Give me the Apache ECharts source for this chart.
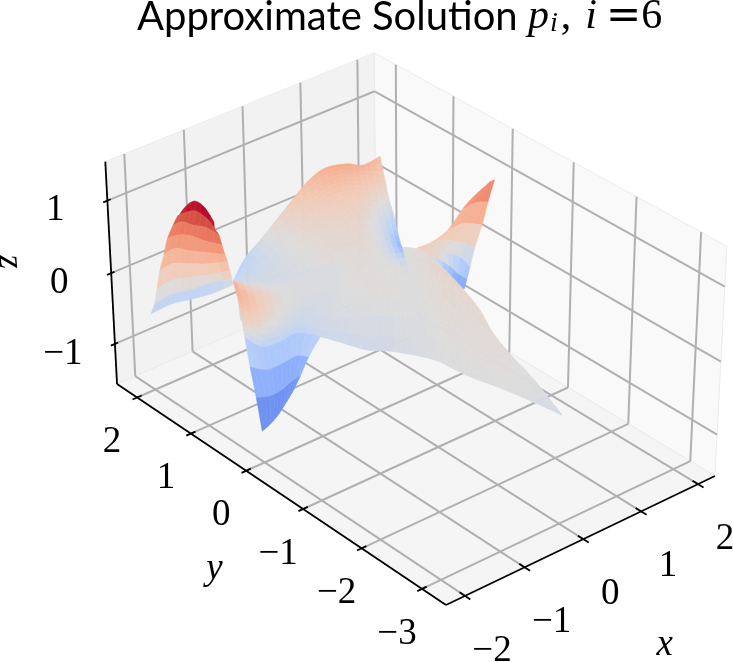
<!DOCTYPE html>
<html><head><meta charset="utf-8"><style>html,body{margin:0;padding:0;background:#fff}#c{width:733px;height:662px}</style>
<script src="https://cdn.jsdelivr.net/npm/echarts@6/dist/echarts.min.js"></script></head><body><div id="c"></div>
<script>
const xTicks=[-2,-1,0,1,2], yTicks=[2,1,0,-1,-2,-3], zTicks=[-1,0,1];
const xLim=[-2.315,2.30], yLim=[-3.39,2.38], zLim=[-1.578,1.528];
const peakX=[[1.58,1.67,1.78,1.86,1.94],[1.58,1.67,1.75,1.80,1.85],[1.35,1.47,1.61,1.69,1.75],[1.07,1.36,1.56,1.73,1.78],[0.95,1.12,1.46,1.75,1.87],[0.94,1.09,1.55,1.87,1.96],[1.02,1.86,2.04,2.08,2.08]];
const peakY=[[0.01,-0.04,-0.05,-0.05,-0.05],[0.15,0.10,0.04,0.01,-0.03],[0.16,0.14,0.13,0.04,-0.03],[0.19,0.28,0.28,0.23,0.12],[0.30,0.21,0.29,0.34,0.28],[0.23,0.11,0.33,0.49,0.42],[0.15,0.82,0.84,0.73,0.58]];
const peakZ=[[.8,.9,.95,.98,.98],[.6,.66,.7,.7,.7],[.4,.42,.42,.42,.42],[.3,.2,.12,.04,.02],[.22,.15,-.02,-.2,-.35],[.2,.12,-.25,-.55,-.62],[.1,-.55,-.78,-.88,-.88]];
const tailX=[[1.09,1.16,1.03,0.84,0.68,0.48,0.33,0.22,0.07],[0.49,0.62,0.55,0.44,0.36,0.25,0.15,0.13,0.07],[0.01,0.09,0.08,0.06,0.05,0.00,-0.01,0.01,0.07],[-0.44,-0.40,-0.40,-0.36,-0.29,-0.24,-0.18,-0.08,0.07]];
const tailY=[[0.69,0.45,0.02,-0.59,-1.03,-1.44,-1.91,-2.36,-2.94],[0.14,-0.19,-0.52,-1.03,-1.39,-1.73,-2.11,-2.49,-2.94],[-0.50,-0.82,-1.04,-1.47,-1.75,-2.03,-2.31,-2.62,-2.94],[-1.24,-1.42,-1.58,-1.92,-2.13,-2.32,-2.50,-2.73,-2.94]];
const tailZ=[[0,.05,.12,.12,.1,.06,.02,-.02,-.14],[-.02,.03,.06,.06,.05,.03,.01,-.03,-.14],[-.05,0,.02,.02,.02,.01,0,-.04,-.14],[-.05,-.03,-.02,-.01,-.01,-.01,-.02,-.06,-.14]];
const bodyX=[[-0.83,-0.33,-0.13,0.29,0.68,0.95,1.20,1.43,1.89],[-0.90,-0.44,-0.14,0.28,0.66,0.94,1.20,1.48,1.77],[-0.96,-0.52,-0.17,0.25,0.60,0.89,1.16,1.46,1.76],[-1.02,-0.63,-0.23,0.17,0.53,0.82,1.09,1.42,1.84],[-1.10,-0.77,-0.35,0.06,0.41,0.70,0.97,1.39,1.86],[-1.21,-0.95,-0.59,-0.21,0.11,0.39,0.69,1.11,1.92],[-1.30,-1.11,-0.78,-0.43,-0.10,0.17,0.42,0.69,0.93],[-1.39,-1.29,-0.99,-0.67,-0.37,-0.10,0.11,0.25,0.31],[-1.58,-1.44,-1.16,-0.99,-0.90,-0.79,-0.64,-0.54,-0.44]];
const bodyY=[[1.75,2.06,1.95,1.93,1.96,1.91,1.77,1.72,1.88],[1.66,1.85,1.83,1.84,1.89,1.85,1.77,1.71,1.67],[1.58,1.69,1.69,1.72,1.75,1.74,1.70,1.64,1.60],[1.49,1.50,1.52,1.53,1.58,1.59,1.55,1.54,1.60],[1.38,1.26,1.27,1.28,1.32,1.32,1.30,1.39,1.54],[1.25,0.99,0.86,0.83,0.84,0.82,0.83,0.96,1.53],[1.16,0.81,0.63,0.53,0.50,0.44,0.40,0.41,0.45],[1.05,0.60,0.38,0.21,0.11,0.02,-0.07,-0.17,-0.28],[0.82,0.36,0.20,0.03,-0.31,-0.58,-0.77,-1.00,-1.24]];
const bodyZ=[[-.32,-.32,-.05,.25,.45,.58,.62,.55,.45],[-.27,-.24,-.05,.18,.35,.47,.48,.4,.25],[-.22,-.2,-.06,.12,.27,.36,.36,.27,.05],[-.17,-.16,-.07,.07,.18,.24,.24,.12,-.2],[-.12,-.12,-.07,.02,.09,.13,.12,-.08,-.45],[-.1,-.12,-.07,-.01,.03,.05,.03,-.15,-.68],[-.11,-.13,-.09,-.04,-.01,.02,.02,-.02,-.08],[-.12,-.14,-.11,-.06,-.02,0,0,0,-.02],[-.15,-.18,-.2,-.2,-.16,-.15,-.12,-.08,-.05]];
const humpX=[[-2.24,-2.16,-2.09,-2.10,-2.18],[-2.11,-2.11,-1.95,-2.05,-2.02],[-2.08,-1.93,-1.97,-1.83,-1.87],[-2.09,-2.02,-1.84,-1.87,-1.72],[-2.15,-1.92,-1.91,-1.71,-1.61],[-2.17,-2.01,-1.78,-1.69,-1.49],[-2.23,-1.92,-1.78,-1.49,-1.43],[-2.23,-1.97,-1.66,-1.41,-1.35],[-2.14,-1.76,-1.46,-1.12,-0.92]];
const humpY=[[1.17,1.11,1.01,0.82,0.58],[1.31,1.14,1.16,0.85,0.75],[1.44,1.44,1.20,1.12,0.84],[1.54,1.42,1.40,1.10,0.96],[1.55,1.60,1.36,1.29,1.03],[1.62,1.56,1.52,1.28,1.12],[1.62,1.68,1.50,1.45,1.15],[1.68,1.67,1.63,1.51,1.20],[1.86,1.88,1.84,1.81,1.66]];
const humpZ=[[1.3,1.45,1.55,1.55,1.5],[1.22,1.35,1.3,1.38,1.28],[1.02,1.02,1.1,1.06,1.1],[.8,.88,.82,.9,.86],[.6,.58,.66,.6,.66],[.34,.42,.36,.44,.48],[.12,.1,.18,.14,.32],[-.12,-.08,-.1,-.03,.15],[-.38,-.38,-.4,-.42,-.3]];
const frontX=[[-1.84,-1.12,-0.64,-0.14,0.32],[-1.97,-1.56,-0.94,-0.40,-0.03],[-2.00,-1.73,-1.13,-0.65,-0.39],[-1.98,-1.71,-1.24,-0.90,-0.73],[-1.84,-1.62,-1.34,-1.04,-0.99],[-1.72,-1.61,-1.33,-1.09,-1.03],[-1.87,-1.70,-1.45,-1.21,-1.08],[-2.00,-1.84,-1.62,-1.41,-1.23]];
const frontY=[[0.65,1.13,1.18,1.07,0.92],[0.46,0.56,0.78,0.77,0.66],[0.38,0.34,0.53,0.56,0.38],[0.36,0.29,0.38,0.39,0.12],[0.47,0.40,0.38,0.37,0.03],[0.52,0.35,0.36,0.36,0.20],[0.26,0.19,0.24,0.31,0.30],[0.03,0.05,0.13,0.21,0.28]];
const frontZ=[[.55,.05,-.1,-.05,0],[.55,.3,.02,-.04,-.03],[.45,.28,0,-.07,-.05],[.22,.05,-.12,-.15,-.08],[-.12,-.3,-.32,-.3,-.2],[-.6,-.6,-.62,-.6,-.55],[-.85,-.85,-.88,-.88,-.85],[-1.15,-1.12,-1.1,-1.05,-1]];
// camera: maps the unit box to the page
const g=.03615,h=.08593,k=-.0404,O=[446,605],A=[294.8,-111.8],B=[-318.9,-188],C=[-17,-248];
function project(x,y,z){const a=(x-xLim[0])/(xLim[1]-xLim[0]),b=(y-yLim[0])/(yLim[1]-yLim[0]),c=(z-zLim[0])/(zLim[1]-zLim[0]),w=1+g*a+h*b+k*c;return [(O[0]+A[0]*a+B[0]*b+C[0]*c)/w,(O[1]+A[1]*a+B[1]*b+C[1]*c)/w];}
const join=(X,Y,Z)=>X.map((r,i)=>r.map((v,j)=>[v,Y[i][j],Z[i][j]]));
const patches=[[join(peakX,peakY,peakZ),i=>1,2],[join(tailX,tailY,tailZ),i=>3,3],[join(bodyX,bodyY,bodyZ),i=>3,3],[join(humpX,humpY,humpZ),i=>1,2],[join(frontX,frontY,frontZ),i=>i<4?3:1,3]];
const stops=['#3b4cc0','#5977e3','#7b9ff9','#9ebeff','#c0d4f5','#dddcdc','#f2cbb7','#f7ac8e','#ee8468','#d65244','#b40426'].map(s=>[parseInt(s.slice(1,3),16),parseInt(s.slice(3,5),16),parseInt(s.slice(5,7),16)]);
function cmap(z){let t=Math.max(0,Math.min(.9999,(z+1.5)/3))*10,i=Math.floor(t),f=t-i;const c=[0,1,2].map(n=>Math.round(stops[i][n]*(1-f)+stops[i+1][n]*f));return `rgb(${c})`;}
function cr(p0,p1,p2,p3,t){return .5*(2*p1+(p2-p0)*t+(2*p0-5*p1+4*p2-p3)*t*t+(3*p1-p0-3*p2+p3)*t*t*t);}
function sample(G,s,t,d){const R=G.length,Cn=G[0].length,i=Math.min(Math.floor(s),R-2),j=Math.min(Math.floor(t),Cn-2),fs=s-i,ft=t-j,col=[];
 for(let r=-1;r<=2;r++){const row=G[Math.max(0,Math.min(R-1,i+r))];col.push(cr(row[Math.max(0,j-1)][d],row[j][d],row[j+1][d],row[Math.min(Cn-1,j+2)][d],ft));}
 return cr(col[0],col[1],col[2],col[3],fs);}
const cells=[];
patches.forEach(([G,srf,sc])=>{
 for(let i=0;i<G.length-1;i++){const sr=srf(i);for(let j=0;j<G[0].length-1;j++)for(let a=0;a<sr;a++)for(let b=0;b<sc;b++){
  const s0=i+a/sr,s1=i+(a+1)/sr,t0=j+b/sc,t1=j+(b+1)/sc,pts=[],n=3;
  const add=(s,t)=>pts.push(project(sample(G,s,t,0),sample(G,s,t,1),sample(G,s,t,2)));
  for(let q=0;q<n;q++)add(s0,t0+(t1-t0)*q/n);for(let q=0;q<n;q++)add(s0+(s1-s0)*q/n,t1);
  for(let q=0;q<n;q++)add(s1,t1-(t1-t0)*q/n);for(let q=0;q<n;q++)add(s1-(s1-s0)*q/n,t0);
  cells.push({pts,color:cmap(sample(G,(s0+s1)/2,(t0+t1)/2,2))});}}});
const x0=xLim[0],x1=xLim[1],y0=yLim[0],y1=yLim[1],z0=zLim[0],z1=zLim[1];
const panes=[
 {p:[[x0,y1,z0],[x1,y1,z0],[x1,y1,z1],[x0,y1,z1]],c:'#f2f2f2'},
 {p:[[x1,y0,z0],[x1,y1,z0],[x1,y1,z1],[x1,y0,z1]],c:'#f9f9f9'},
 {p:[[x0,y0,z0],[x1,y0,z0],[x1,y1,z0],[x0,y1,z0]],c:'#f5f5f5'}];
const grids=[];
xTicks.forEach(v=>{grids.push([[v,y1,z0],[v,y1,z1]],[[v,y0,z0],[v,y1,z0]]);});
yTicks.forEach(v=>{grids.push([[x1,v,z0],[x1,v,z1]],[[x0,v,z0],[x1,v,z0]]);});
zTicks.forEach(v=>{grids.push([[x0,y1,v],[x1,y1,v]],[[x1,y0,v],[x1,y1,v]]);});
const dx=x1-x0,dy=y1-y0;
const axes=[[[x0,y0,z0],[x1,y0,z0]],[[x0,y0,z0],[x0,y1,z0]],[[x0,y1,z0],[x0,y1,z1]]];
xTicks.forEach(v=>axes.push([[v,y0-.015*dy,z0],[v,y0+.015*dy,z0]]));
yTicks.forEach(v=>axes.push([[x0-.017*dx,v,z0],[x0+.017*dx,v,z0]]));
zTicks.forEach(v=>axes.push([[x0-.015*dx,y1,v],[x0+.012*dx,y1,v]]));
const labels=[];
const num=v=>(v<0?'\u2212':'')+Math.abs(v);
xTicks.forEach(v=>labels.push({p:[v,y0,z0],o:[27,55],t:num(v)}));
yTicks.forEach(v=>labels.push({p:[x0,v,z0],o:[-25,45],t:num(v)}));
zTicks.forEach(v=>labels.push({p:[x0,y1,v],o:[-52,10],t:num(v)}));
const axisNames=[{p:[1.15,y0,z0],o:[15,138],t:'x',r:0},{p:[x0,-.5,z0],o:[-60,80],t:'y',r:0},{p:[x0,y1,.2],o:[-101,3],t:'z',r:-1.5}];
const poly=(list,style)=>(params,api)=>{const it=list[params.dataIndex];return {type:'polygon',shape:{points:it.pts.map(q=>api.coord(q))},style:style(it),silent:true};};
const line=(list,color,w)=>(params,api)=>{const s=list[params.dataIndex];const a=api.coord(project(...s[0])),b=api.coord(project(...s[1]));return {type:'line',shape:{x1:a[0],y1:a[1],x2:b[0],y2:b[1]},style:{stroke:color,lineWidth:w},silent:true};};
const idx=l=>l.map((_,i)=>[i]);
const paneItems=panes.map(o=>({pts:o.p.map(q=>project(...q)),color:o.c}));
const chart=echarts.init(document.getElementById('c'),null,{renderer:'canvas'});
const base={type:'custom',coordinateSystem:'cartesian2d',clip:false,silent:true,animation:false};
const mi={fontFamily:'Liberation Serif',fontStyle:'italic',fontWeight:'normal',fontSize:42,color:'#000'};
chart.setOption({animation:false,backgroundColor:'#fff',
 title:[{text:'Approximate Solution',left:137,top:-3,padding:0,textStyle:{fontFamily:'Lato',fontSize:40,fontWeight:'normal',color:'#000'}},
  {text:'{p|p}{i|i}{c|,}{j|i}{e|=}{n|6}',left:528,top:-4,padding:0,textStyle:{fontWeight:'normal',rich:{p:{...mi},i:{...mi,fontSize:28,padding:[14,3,0,1]},c:{...mi,fontStyle:'normal',padding:[0,14,0,0]},j:{...mi,padding:[0,9,0,0]},e:{...mi,fontStyle:'normal',fontFamily:'DejaVu Sans',fontSize:42},n:{...mi,fontStyle:'normal'}}}}],
 grid:{left:0,right:0,top:0,bottom:0},
 xAxis:{type:'value',min:0,max:733,show:false},yAxis:{type:'value',min:0,max:662,inverse:true,show:false},
 series:[
  {...base,z:1,data:idx(paneItems),renderItem:poly(paneItems,it=>({fill:it.color,stroke:'#ececec',lineWidth:1}))},
  {...base,z:2,data:idx(grids),renderItem:line(grids,'#b0b0b0',2)},
  {...base,z:3,data:idx(axes),renderItem:line(axes,'#000',1.8)},
  {...base,z:4,data:idx(cells),renderItem:poly(cells,it=>({fill:it.color,stroke:it.color,lineWidth:.5}))},
  {...base,z:5,data:idx(labels),renderItem:(params,api)=>{const l=labels[params.dataIndex],c=api.coord(project(...l.p));return {type:'text',x:c[0]+l.o[0],y:c[1]+l.o[1],style:{text:l.t,fontFamily:'Liberation Serif',fontSize:37,fill:'#000',align:'center',verticalAlign:'middle'},silent:true};}},
  {...base,z:5,data:idx(axisNames),renderItem:(params,api)=>{const l=axisNames[params.dataIndex],c=api.coord(project(...l.p));return {type:'text',x:c[0]+l.o[0],y:c[1]+l.o[1],rotation:l.r,style:{text:l.t,fontFamily:'Liberation Serif',fontStyle:'italic',fontSize:37,fill:'#000',align:'center',verticalAlign:'middle'},silent:true};}}
 ]});
</script></body></html>
